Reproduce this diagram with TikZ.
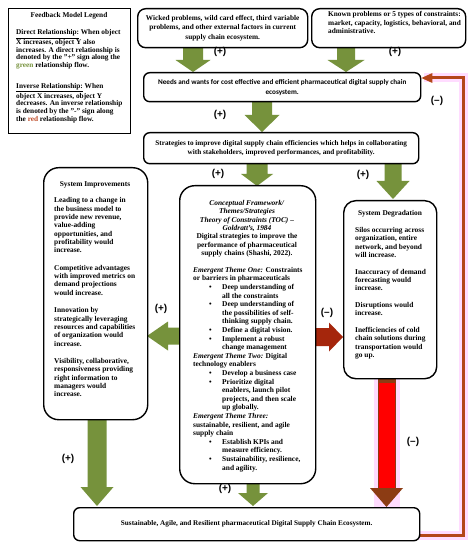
\documentclass[tikz,border=0pt]{standalone}
\usepackage{fontspec}
\setmainfont{Liberation Serif}
\setsansfont{Liberation Sans}
\newfontfamily\calibrifont{Carlito}
\usetikzlibrary{calc}
\definecolor{arrgreen}{RGB}{118,146,60}
\definecolor{fbbrown}{RGB}{180,70,25}
\definecolor{headbrown}{RGB}{140,60,20}
\definecolor{arrred}{RGB}{255,0,0}
\definecolor{darkred}{RGB}{165,38,12}
\definecolor{halo}{RGB}{255,220,255}
\definecolor{legred}{RGB}{190,75,40}
\newcommand{\setfs}[2]{\fontsize{#1bp}{#2bp}\selectfont}
% vertical block arrow: fill, x, ytop, ybot, shaft half, head half, head length
\newcommand{\varrow}[7]{%
  \fill[#1] (#2-#5,#3) -- (#2+#5,#3) -- (#2+#5,#4-#7) -- (#2+#6,#4-#7) -- (#2,#4) -- (#2-#6,#4-#7) -- (#2-#5,#4-#7) -- cycle;}
% horizontal block arrow: fill, y, xstart, xtip, shaft half, head half, signed head length
\newcommand{\harrow}[7]{%
  \fill[#1] (#3,#2-#5) -- (#4-#7,#2-#5) -- (#4-#7,#2-#6) -- (#4,#2) -- (#4-#7,#2+#6) -- (#4-#7,#2+#5) -- (#3,#2+#5) -- cycle;}
\newcommand{\bl}{\hspace*{16bp}\makebox[13bp][l]{•}}
\newcommand{\bi}{\hspace*{29bp}}
\tikzset{
  box/.style={draw=black, line width=1.4bp, fill=white, rounded corners=#1, inner sep=0pt, anchor=north west},
  box/.default=8bp,
  txt/.style={inner sep=0pt, font=\bfseries\setfs{7.3}{7.7}},
  lbl/.style={inner sep=0pt, font=\sffamily\bfseries\setfs{10}{10}},
}
\begin{document}
\begin{tikzpicture}[x=1bp,y=-1bp]
\useasboundingbox (0,0) rectangle (473,550);
\fill[white] (0,0) rectangle (473,550);

% ---------- connectors (drawn under the boxes) ----------
\coordinate (fb1) at (463,535);
\coordinate (fb2) at (463,78);
\draw[halo, line width=9bp] (419,535) -- (fb1) -- (fb2) -- (424,78);
\fill[halo] (374,368) rectangle (400,508);
\draw[fbbrown, line width=3bp] (419,535) -- (fb1) -- (fb2) -- (431,78);

\varrow{arrgreen}{193}{47}{72}{10}{17.5}{12}
\varrow{arrgreen}{346}{47}{72}{9}{18.5}{12}
\varrow{arrgreen}{262}{101}{132}{10}{17.5}{17}
\varrow{arrgreen}{257}{163}{186}{10.5}{16}{12}
\varrow{arrgreen}{393}{163}{199}{8.5}{16.5}{18}
\varrow{arrgreen}{97}{419}{506}{9.5}{16.5}{19}
\varrow{arrgreen}{253}{483}{506}{6.5}{15}{13}
\harrow{arrgreen}{336}{180}{147}{8.5}{14.5}{-21}
\harrow{darkred}{337}{314}{343}{9}{14.5}{14}
% red arrow degradation -> final
\filldraw[fill=arrred, draw=headbrown, line width=1bp] (378.5,378) rectangle (395,489);
\fill[headbrown] (378,378) rectangle (395.5,383);
\fill[headbrown] (370,488) -- (403,488) -- (386.5,507) -- cycle;

% ---------- boxes ----------
\node[box=0bp, minimum width=122bp, minimum height=125bp] (legend) at (8,8) {};
\node[box=8bp, minimum width=170bp, minimum height=39bp] (wick) at (137,8) {};
\node[box=8bp, minimum width=154bp, minimum height=39bp] (known) at (311,8) {};
\node[box=6bp, minimum width=277bp, minimum height=29bp] (needs) at (143,72) {};
\node[box=6bp, minimum width=275bp, minimum height=31bp] (strat) at (143,132) {};
\node[box=15bp, minimum width=104bp, minimum height=252bp] (impr) at (43,167) {};
\node[box=15bp, minimum width=136bp, minimum height=298bp] (frame) at (179,185) {};
\node[box=12bp, minimum width=93bp, minimum height=178bp] (degr) at (343,200) {};
\node[box=6bp, minimum width=346bp, minimum height=33bp] (final) at (73,507) {};

% feedback arrow head into the needs box
\fill[fbbrown] (needs.east |- fb2) -- ++(11,-5) -- ++(0,10) -- cycle;

% ---------- texts ----------
\node[txt, anchor=north] (legT) at (69,12.5) {Feedback Model Legend};
\node[txt, anchor=north west, align=left] (legB) at (16,29.5) {\underline{Direct Relationship:} When object\\ X increases, object Y also\\ increases. A direct relationship is\\ denoted by the "+" sign along the\\ \textcolor{arrgreen}{green} relationship flow.\\[13.3bp] \underline{Inverse Relationship:} When\\ object X increases, object Y\\ decreases. An inverse relationship\\ is denoted by the "-" sign along\\ the \textcolor{legred}{red} relationship flow.};

\node[txt, align=center, font=\bfseries\setfs{7.3}{9.2}] (wickT) at (wick.center) {Wicked problems, wild card effect, third variable\\ problems, and other external factors in current\\ supply chain ecosystem.};

\node[txt, anchor=north west, align=left, font=\bfseries\setfs{7.3}{8.3}] (knownT) at (328,11.5) {Known problems or 5 types of constraints:\\ market, capacity, logistics, behavioral, and\\ administrative.};

\node[txt, align=center, font=\calibrifont\bfseries\setfs{7.2}{10}] (needsT) at (needs.center) {Needs and wants for cost effective and efficient pharmaceutical digital supply chain\\ ecosystem.};

\node[txt, align=center, font=\bfseries\setfs{7.2}{9}] (stratT) at (strat.center) {Strategies to improve digital supply chain efficiencies which helps in collaborating\\ with stakeholders, improved performances, and profitability.};

\node[txt, font=\bfseries\setfs{7.2}{9}] (finalT) at (final.center) {Sustainable, Agile, and Resilient pharmaceutical Digital Supply Chain Ecosystem.};

\node[txt, anchor=north, font=\bfseries\setfs{7.4}{8.35}] (imprT) at (95,181) {System Improvements};
\node[txt, anchor=north west, align=left, font=\bfseries\setfs{7.4}{8.35}] (imprB) at (54,197.5) {Leading to a change in\\ the business model to\\ provide new revenue,\\ value-adding\\ opportunities, and\\ profitability would\\ increase.\\[9bp] Competitive advantages\\ with improved metrics on\\ demand projections\\ would increase.\\[9bp] Innovation by\\ strategically leveraging\\ resources and capabilities\\ of organization would\\ increase.\\[9bp] Visibility, collaborative,\\ responsiveness providing\\ right information to\\ managers would\\ increase.};

\node[txt, anchor=north, align=center, font=\bfseries\setfs{7.4}{8.4}] (frameT) at (247,200) {\textit{Conceptual Framework/}\\ \textit{Themes/Strategies}\\ \textit{Theory of Constraints (TOC) –}\\ \textit{Goldratt's, 1984}\\ Digital strategies to improve the\\ performance of pharmaceutical\\ supply chains (Shashi, 2022).};
\node[txt, anchor=north west, align=left, font=\bfseries\setfs{7.4}{8.6}] (frameB) at (193,267) {\textit{Emergent Theme One:} Constraints\\ or barriers in pharmaceuticals\\ \bl Deep understanding of\\ \bi all the constraints\\ \bl Deep understanding of\\ \bi the possibilities of self-\\ \bi thinking supply chain.\\ \bl Define a digital vision.\\ \bl Implement a robust\\ \bi change management\\ \textit{Emergent Theme Two:} Digital\\ technology enablers\\ \bl Develop a business case\\ \bl Prioritize digital\\ \bi enablers, launch pilot\\ \bi projects, and then scale\\ \bi up globally.\\ \textit{Emergent Theme Three:}\\ sustainable, resilient, and agile\\ supply chain\\ \bl Establish KPIs and\\ \bi measure efficiency.\\ \bl Sustainability, resilience,\\ \bi and agility.};

\node[txt, anchor=north, font=\bfseries\setfs{7.4}{8.35}] (degrT) at (390,210) {System Degradation};
\node[txt, anchor=north west, align=left, font=\bfseries\setfs{7.4}{8.35}] (degrB) at (355,227) {Silos occurring across\\ organization, entire\\ network, and beyond\\ will increase.\\[8.35bp] Inaccuracy of demand\\ forecasting would\\ increase.\\[8.35bp] Disruptions would\\ increase.\\[8.35bp] Inefficiencies of cold\\ chain solutions during\\ transportation would\\ go up.};

% ---------- relation signs ----------
\node[lbl] (s1) at (220,52) {(+)};
\node[lbl] (s2) at (395,52) {(+)};
\node[lbl] (s3) at (437,101) {(–)};
\node[lbl] (s4) at (220,115) {(+)};
\node[lbl] (s5) at (218,174) {(+)};
\node[lbl] (s6) at (363,175) {(+)};
\node[lbl] (s7) at (161,309) {(+)};
\node[lbl] (s8) at (327,313) {(–)};
\node[lbl] (s9) at (413,442) {(–)};
\node[lbl] (s10) at (68,459) {(+)};
\node[lbl] (s11) at (225,489) {(+)};
\end{tikzpicture}
\end{document}
